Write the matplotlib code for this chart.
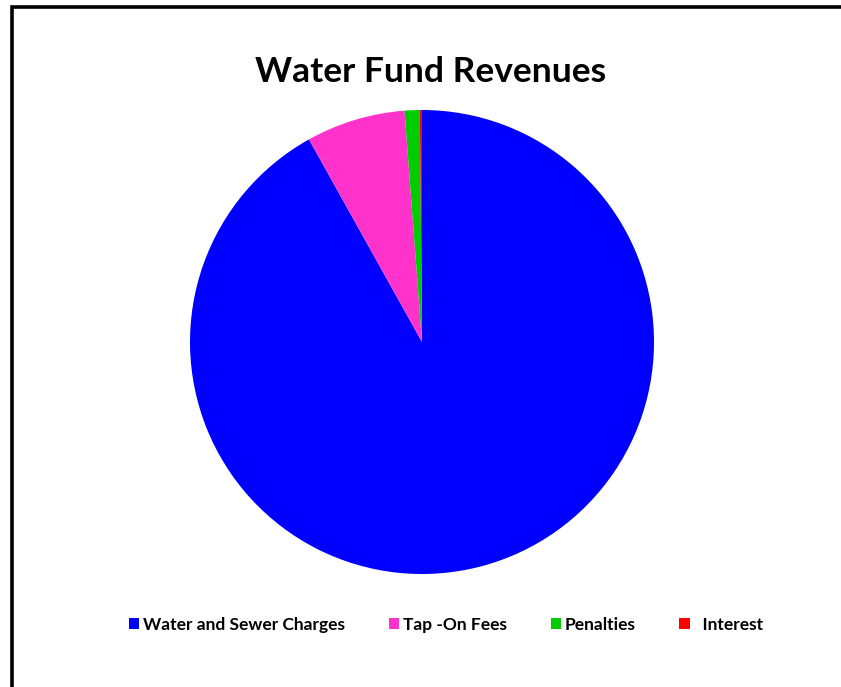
import matplotlib
matplotlib.use("Agg")
import matplotlib.pyplot as plt
from matplotlib.patches import Rectangle

categories = ["Water and Sewer Charges", "Tap -On Fees", "Penalties", "Interest"]
values = [91.9, 6.9, 1.05, 0.15]
colors = ["#0000FF", "#FF33CC", "#00CC00", "#FF0000"]
title = "Water Fund Revenues"

plt.rcParams['font.family'] = ['Lato', 'DejaVu Sans']

W, H = 841, 687
fig = plt.figure(figsize=(W / 100, H / 100), dpi=100)
fig.patch.set_facecolor("white")

cx, cy, r = 422, 342, 232
ax = fig.add_axes([(cx - r) / W, (H - cy - r) / H, 2 * r / W, 2 * r / H])
wedges, _ = ax.pie(values, colors=colors, startangle=90, counterclock=False,
                   radius=1, wedgeprops=dict(linewidth=0))
ax.set_xlim(-1, 1)
ax.set_ylim(-1, 1)
ax.set_aspect("equal")
ax.axis("off")

# outer frame
fig.patches.append(Rectangle((11.5 / W, -0.1), 2.0, (H - 6.5) / H + 0.1,
                             transform=fig.transFigure, fill=False,
                             edgecolor="black", linewidth=2.6, clip_on=False))

fig.text(431 / W, 1 - 72.5 / H, title, ha="center", va="center",
         fontsize=25.5, fontweight="bold", color="black")

labels = list(categories)
labels[3] = "  " + labels[3]
leg = fig.legend(wedges, labels, loc="center left", bbox_to_anchor=(129 / W, 1 - 625 / H),
                 ncol=4, frameon=False, prop=dict(weight="bold", size=12.5),
                 handlelength=0.58, handleheight=0.58, handletextpad=0.25,
                 columnspacing=2.5, borderaxespad=0, borderpad=0)

fig.savefig("out.png", dpi=100, facecolor="white")
